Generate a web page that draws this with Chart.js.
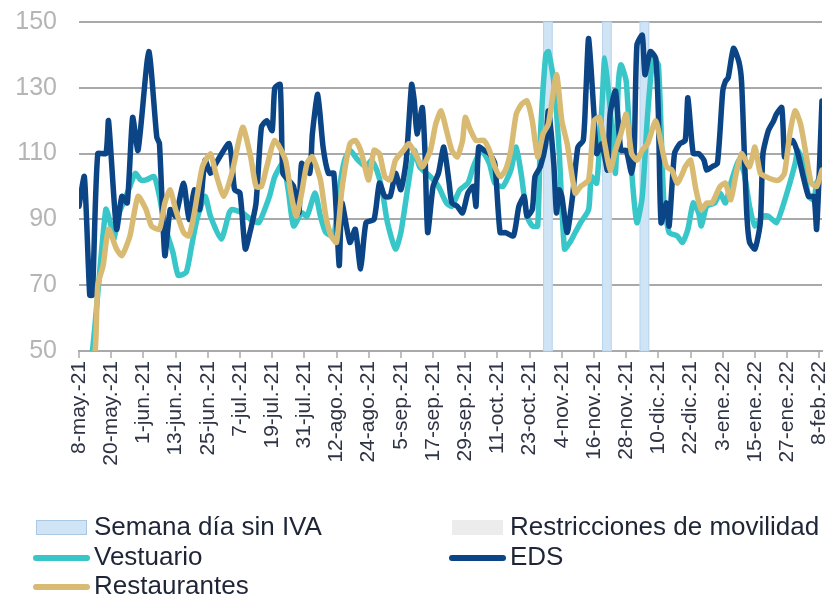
<!DOCTYPE html>
<html lang="es">
<head>
<meta charset="utf-8">
<title>Ventas semanales por sector</title>
<script src="https://cdn.jsdelivr.net/npm/chart.js@4.4.1/dist/chart.umd.min.js"></script>
<style>
  html, body { margin: 0; padding: 0; background: #ffffff; }
  #contenedor { width: 834px; height: 596px; position: relative; }
</style>
</head>
<body>
<div id="contenedor"><canvas id="graficoSectores"></canvas></div>
<script>
// Etiquetas del eje X (cada 12 días, contados desde el 8-may.-21)
const diasEtiqueta = [0, 12, 24, 36, 48, 60, 72, 84, 96, 108, 120, 132, 144, 156, 168, 180, 192, 204, 216, 228, 240, 252, 264, 276];
const etiquetasFecha = ['8-may.-21', '20-may.-21', '1-jun.-21', '13-jun.-21', '25-jun.-21', '7-jul.-21', '19-jul.-21', '31-jul.-21',
    '12-ago.-21', '24-ago.-21', '5-sep.-21', '17-sep.-21', '29-sep.-21', '11-oct.-21', '23-oct.-21', '4-nov.-21',
    '16-nov.-21', '28-nov.-21', '10-dic.-21', '22-dic.-21', '3-ene.-22', '15-ene.-22', '27-ene.-22', '8-feb.-22'];

// Semanas del día sin IVA (día de inicio y fin)
const sinIvaInicio = [173, 195, 209];
const sinIvaFin = [176.6, 198.6, 212.6];

// Vestuario
const vestuarioDias = [0, 5, 10, 12, 13, 15, 17, 19, 21, 23, 25, 28, 30, 32, 35, 37, 40, 42, 44, 47, 49, 53, 56, 57, 61, 64, 67, 71, 73, 76,
    78, 80, 83, 85, 88, 90, 92, 95, 97, 99, 101, 104, 107, 109, 111, 113, 115, 118, 120, 123, 125, 127, 131, 134, 137, 139, 142, 145, 147, 150,
    153, 155, 158, 161, 163, 165, 167, 169, 171, 172, 174, 175, 177, 179, 181, 183, 185, 187, 190, 191, 193, 195, 196, 198, 200, 201, 202, 204, 206, 208,
    210, 212, 214, 216, 218, 220, 223, 225, 227, 229, 231, 232, 234, 237, 239, 241, 243, 246, 248, 250, 252, 255, 257, 260, 262, 265, 267, 268, 270, 272,
    274, 275, 277];
const vestuarioValores = [25, 50, 93, 88, 84, 92, 96, 100, 104, 102, 102, 103, 97, 88, 80, 73, 74, 82, 90, 97, 91, 84, 92, 93, 92, 90, 89, 97, 103, 107,
    99, 88, 92, 91, 98, 91, 86, 85, 99, 108, 111, 108, 106, 108, 105, 99, 89, 81, 86, 102, 111, 106, 103, 100, 95, 94, 99, 101, 106, 111,
    107, 101, 100, 105, 112, 103, 91, 88, 88, 115, 140, 141, 132, 111, 81, 83, 86, 89, 93, 103, 101, 125, 139, 124, 104, 130, 137, 132, 105, 89,
    97, 122, 139, 137, 96, 86, 85, 83, 87, 95, 92, 88, 94, 95, 98, 95, 101, 108, 104, 94, 88, 91, 91, 89, 93, 101, 107, 111, 107, 97,
    96, 101, 104];

// EDS
const edsDias = [0, 2, 4, 5, 7, 10, 11, 14, 16, 18, 20, 22, 26, 29, 30, 32, 34, 36, 39, 41, 43, 45, 47, 49, 51, 56, 58, 60, 62, 64,
    66, 68, 70, 72, 73, 75, 76, 78, 80, 82, 83, 86, 87, 89, 91, 93, 95, 97, 98, 101, 103, 105, 107, 110, 112, 114, 116, 118, 120, 122,
    124, 125, 126, 128, 129, 130, 132, 134, 136, 138, 139, 141, 143, 145, 147, 148, 149, 151, 153, 155, 157, 159, 162, 164, 166, 167, 169, 170, 172, 174,
    175, 177, 178, 179, 180, 182, 184, 186, 188, 189, 190, 192, 193, 195, 197, 198, 200, 202, 204, 206, 207, 208, 210, 211, 213, 215, 216, 217, 219, 220,
    222, 224, 226, 227, 229, 231, 233, 234, 236, 238, 240, 241, 242, 244, 246, 247, 248, 249, 250, 252, 254, 255, 257, 259, 260, 262, 263, 264, 266, 268,
    270, 272, 274, 275, 277];
const edsValores = [94, 103, 67, 67, 110, 110, 120, 87, 97, 95, 121, 111, 141, 115, 113, 79, 93, 91, 101, 90, 99, 93, 108, 104, 107, 113, 99, 98, 81, 87,
    95, 118, 120, 117, 130, 131, 104, 102, 100, 92, 107, 104, 116, 128, 112, 104, 104, 76, 95, 83, 87, 75, 89, 90, 101, 97, 97, 104, 99, 108,
    131, 126, 116, 124, 110, 86, 100, 104, 112, 101, 95, 94, 92, 98, 100, 94, 112, 111, 110, 107, 86, 86, 85, 94, 97, 91, 93, 103, 106, 113,
    123, 107, 92, 99, 97, 86, 97, 112, 114, 129, 145, 122, 110, 113, 105, 122, 129, 111, 111, 104, 111, 143, 146, 134, 141, 139, 122, 89, 95, 88,
    110, 113, 114, 127, 110, 110, 108, 105, 106, 107, 129, 132, 133, 142, 138, 132, 111, 91, 83, 81, 89, 110, 117, 120, 122, 124, 109, 112, 114, 110,
    103, 97, 97, 87, 126];

// Restaurantes
const restaurantesDias = [0, 6, 7, 9, 11, 14, 16, 19, 22, 25, 27, 30, 32, 34, 36, 39, 41, 43, 46, 49, 51, 54, 57, 61, 64, 66, 68, 70, 73, 77,
    79, 81, 83, 85, 87, 90, 92, 94, 96, 98, 101, 103, 105, 106, 108, 110, 112, 114, 116, 118, 121, 123, 126, 128, 131, 133, 135, 137, 139, 141,
    143, 144, 146, 148, 151, 153, 155, 157, 159, 161, 163, 165, 167, 169, 171, 173, 175, 178, 180, 182, 185, 187, 190, 192, 194, 196, 198, 200, 202, 204,
    206, 208, 210, 212, 215, 217, 219, 221, 223, 225, 226, 228, 230, 232, 234, 236, 239, 241, 243, 245, 247, 250, 252, 254, 256, 259, 261, 263, 265, 267,
    269, 271, 273, 275, 277];
const restaurantesValores = [20, 50, 70, 76, 87, 81, 79, 85, 97, 93, 88, 87, 95, 99, 93, 86, 85, 92, 106, 110, 104, 97, 104, 118, 109, 100, 100, 106, 114, 108,
    98, 91, 98, 107, 109, 102, 91, 85, 83, 99, 113, 114, 111, 108, 102, 111, 110, 103, 102, 108, 111, 113, 109, 106, 111, 119, 123, 117, 111, 109,
    114, 121, 117, 114, 114, 111, 106, 103, 105, 111, 122, 125, 126, 120, 109, 116, 119, 134, 120, 113, 98, 100, 102, 120, 121, 113, 105, 111, 116, 122,
    110, 108, 111, 113, 120, 113, 106, 105, 101, 104, 106, 108, 99, 93, 95, 95, 100, 101, 96, 104, 110, 106, 112, 104, 103, 102, 102, 104, 116, 123,
    119, 110, 101, 100, 105];

const colorVestuario = '#38c6c9';
const colorEds = '#0b4586';
const colorRestaurantes = '#d9ba72';

function aPuntos(dias, valores) {
    return dias.map((d, i) => ({ x: d, y: valores[i] }));
}

// Franjas de la semana sin IVA, dibujadas con la escala X del gráfico
const franjasSinIva = {
    id: 'franjasSinIva',
    beforeDatasetsDraw(chart) {
        const { ctx, chartArea, scales } = chart;
        ctx.save();
        for (let i = 0; i < sinIvaInicio.length; i++) {
            const x1 = scales.x.getPixelForValue(sinIvaInicio[i]);
            const x2 = scales.x.getPixelForValue(sinIvaFin[i]);
            ctx.fillStyle = '#cfe4f5';
            ctx.fillRect(x1, chartArea.top, x2 - x1, chartArea.bottom - chartArea.top);
            ctx.strokeStyle = '#bcd6ee';
            ctx.lineWidth = 1;
            ctx.strokeRect(x1 + 0.5, chartArea.top, x2 - x1 - 1, chartArea.bottom - chartArea.top);
        }
        ctx.restore();
    }
};

// Leyenda en dos columnas, como en el original
const leyendaDosColumnas = {
    id: 'leyendaDosColumnas',
    afterDraw(chart) {
        const ctx = chart.ctx;
        const columnas = [36, 452];
        const filas = [527, 557, 586];
        const ds = chart.data.datasets;
        const items = [
            { tipo: 'caja', texto: 'Semana día sin IVA', relleno: '#cfe4f5', borde: '#aac8e4', col: 0, fila: 0 },
            { tipo: 'caja', texto: 'Restricciones de movilidad', relleno: '#ececec', borde: '#ececec', col: 1, fila: 0 },
            { tipo: 'linea', texto: ds[0].label, color: ds[0].borderColor, col: 0, fila: 1 },
            { tipo: 'linea', texto: ds[1].label, color: ds[1].borderColor, col: 1, fila: 1 },
            { tipo: 'linea', texto: ds[2].label, color: ds[2].borderColor, col: 0, fila: 2 }
        ];
        ctx.save();
        ctx.font = '26px "Liberation Sans", Arial, sans-serif';
        ctx.textBaseline = 'middle';
        items.forEach((it) => {
            const x = columnas[it.col];
            const y = filas[it.fila];
            if (it.tipo === 'caja') {
                ctx.fillStyle = it.relleno;
                ctx.fillRect(x, y - 7, 51, 15);
                ctx.strokeStyle = it.borde;
                ctx.lineWidth = 1;
                ctx.strokeRect(x + 0.5, y - 6.5, 50, 14);
            } else {
                ctx.strokeStyle = it.color;
                ctx.lineWidth = 6;
                ctx.lineCap = 'round';
                ctx.beginPath();
                ctx.moveTo(x, y + 1);
                ctx.lineTo(x + 51, y + 1);
                ctx.stroke();
            }
            ctx.fillStyle = '#1d2536';
            ctx.fillText(it.texto, x + 58, y + 1);
        });
        ctx.restore();
    }
};

document.addEventListener('DOMContentLoaded', function () {
    const ctx = document.getElementById('graficoSectores').getContext('2d');
    Chart.defaults.font.family = '"Liberation Sans", Arial, sans-serif';

    new Chart(ctx, {
        type: 'line',
        data: {
            datasets: [
                {
                    label: 'Vestuario',
                    data: aPuntos(vestuarioDias, vestuarioValores),
                    borderColor: colorVestuario,
                    order: 2
                },
                {
                    label: 'EDS',
                    data: aPuntos(edsDias, edsValores),
                    borderColor: colorEds,
                    order: 1
                },
                {
                    label: 'Restaurantes',
                    data: aPuntos(restaurantesDias, restaurantesValores),
                    borderColor: colorRestaurantes,
                    order: 0
                }
            ]
        },
        options: {
            responsive: true,
            maintainAspectRatio: false,
            animation: false,
            layout: { padding: { top: 22, right: 12, bottom: 127, left: 0 } },
            elements: {
                line: { borderWidth: 5.5, tension: 0.2, borderJoinStyle: 'round', borderCapStyle: 'round', fill: false },
                point: { radius: 0 }
            },
            plugins: {
                legend: { display: false },
                tooltip: { enabled: false }
            },
            scales: {
                x: {
                    type: 'linear',
                    min: 0,
                    max: 277,
                    afterBuildTicks: (eje) => { eje.ticks = diasEtiqueta.map((v) => ({ value: v })); },
                    afterFit: (eje) => {
                        eje.height = 118;
                        eje.paddingLeft = 0;
                        eje.paddingRight = 0;
                    },
                    ticks: {
                        autoSkip: false,
                        minRotation: 90,
                        maxRotation: 90,
                        padding: 3,
                        color: '#2e3445',
                        font: { size: 21 },
                        callback: (v, i) => etiquetasFecha[i]
                    },
                    grid: { drawOnChartArea: false, drawTicks: true, tickLength: 7, color: '#bfbfbf', lineWidth: 2 },
                    border: { display: true, color: '#a9a9a9', width: 2 }
                },
                y: {
                    min: 50,
                    max: 150,
                    afterFit: (eje) => {
                        eje.width = 79;
                        eje.paddingTop = 0;
                        eje.paddingBottom = 0;
                    },
                    ticks: {
                        stepSize: 20,
                        padding: 22,
                        color: '#b5b5b5',
                        font: { size: 25 }
                    },
                    grid: { color: '#a9a9a9', lineWidth: 2, drawTicks: false },
                    border: { display: false }
                }
            }
        },
        plugins: [franjasSinIva, leyendaDosColumnas]
    });
});
</script>
</body>
</html>
